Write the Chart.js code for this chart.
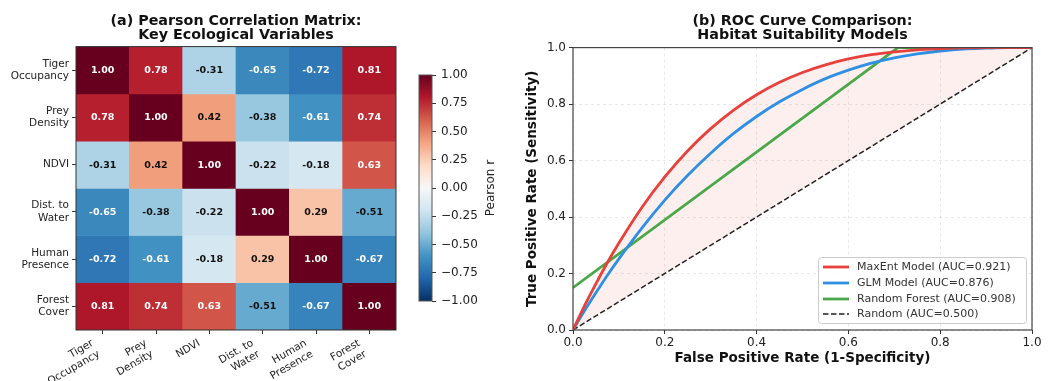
<!DOCTYPE html>
<html>
<head>
<meta charset="utf-8">
<script src="https://cdn.jsdelivr.net/npm/chart.js@4/dist/chart.umd.min.js"></script>
<style>
html,body{margin:0;padding:0;background:#fff;width:1056px;height:381px;overflow:hidden;}
canvas{position:absolute;top:0;}
#hm{left:0;}
#cb{left:405px;}
#roc{left:505px;}
</style>
</head>
<body>
<canvas id="hm" width="405" height="381"></canvas>
<canvas id="cb" width="100" height="381"></canvas>
<canvas id="roc" width="551" height="381"></canvas>
<script>
// ---------------- DATA ----------------
const varLabels = [['Tiger','Occupancy'],['Prey','Density'],['NDVI'],['Dist. to','Water'],['Human','Presence'],['Forest','Cover']];
const tigerOccupancy = [1.00, 0.78, -0.31, -0.65, -0.72, 0.81];
const preyDensity    = [0.78, 1.00, 0.42, -0.38, -0.61, 0.74];
const ndvi           = [-0.31, 0.42, 1.00, -0.22, -0.18, 0.63];
const distToWater    = [-0.65, -0.38, -0.22, 1.00, 0.29, -0.51];
const humanPresence  = [-0.72, -0.61, -0.18, 0.29, 1.00, -0.67];
const forestCover    = [0.81, 0.74, 0.63, -0.51, -0.67, 1.00];
const corrRows = [tigerOccupancy, preyDensity, ndvi, distToWater, humanPresence, forestCover];
const colorbarTicks = [-1.00, -0.75, -0.50, -0.25, 0.00, 0.25, 0.50, 0.75, 1.00];

const fpr        = [0, 0.025, 0.05, 0.075, 0.1, 0.15, 0.2, 0.25, 0.3, 0.35, 0.4, 0.45, 0.5, 0.55, 0.6, 0.65, 0.7, 0.75, 0.8, 0.85, 0.9, 0.95, 1.0];
const maxentTpr  = [0, 0.085, 0.164, 0.239, 0.308, 0.434, 0.542, 0.635, 0.713, 0.779, 0.833, 0.877, 0.912, 0.939, 0.960, 0.975, 0.985, 0.992, 0.996, 0.999, 1.0, 1.0, 1.0];
const glmTpr     = [0, 0.068, 0.132, 0.194, 0.252, 0.361, 0.460, 0.548, 0.626, 0.696, 0.756, 0.808, 0.852, 0.890, 0.920, 0.945, 0.964, 0.978, 0.988, 0.995, 0.998, 1.0, 1.0];
const rfFpr      = [0, 0.708, 1.0];
const rfTpr      = [0.15, 1.0, 1.0];
const randomFpr  = [0, 1];
const randomTpr  = [0, 1];
const rocTicks   = [0, 0.2, 0.4, 0.6, 0.8, 1.0];

// ---------------- COLORS ----------------
const rdbu = ['#053061','#2166ac','#4393c3','#92c5de','#d1e5f0','#f7f7f7','#fddbc7','#f4a582','#d6604d','#b2182b','#67001f'];
function hex(h){return [parseInt(h.substr(1,2),16),parseInt(h.substr(3,2),16),parseInt(h.substr(5,2),16)];}
function cmap(v){
  let t = (v + 1) / 2 * 10; t = Math.max(0, Math.min(10, t));
  const i = Math.min(9, Math.floor(t)); const f = t - i;
  const a = hex(rdbu[i]), b = hex(rdbu[i+1]);
  return 'rgb(' + a.map((x,k)=>Math.round(x + (b[k]-x)*f)).join(',') + ')';
}
const FONT = '"DejaVu Sans", sans-serif';
Chart.defaults.font.family = FONT;
Chart.defaults.color = '#222';

function framePlugin(color, width){
  return {
    id: 'frame',
    afterDraw(chart){
      const {ctx, chartArea:a} = chart;
      ctx.save(); ctx.strokeStyle = color; ctx.lineWidth = width;
      ctx.strokeRect(a.left, a.top, a.right - a.left, a.bottom - a.top);
      ctx.restore();
    }
  };
}

// ---------------- HEATMAP ----------------
const hmText = {
  id: 'hmText',
  afterDatasetsDraw(chart){
    const c = chart.ctx;
    c.save();
    c.font = 'bold 9.5px ' + FONT;
    c.textAlign = 'center'; c.textBaseline = 'middle';
    corrRows.forEach((row, i) => {
      chart.getDatasetMeta(i).data.forEach((bar, j) => {
        const v = row[j];
        c.fillStyle = Math.abs(v) > 0.55 ? '#ffffff' : '#111111';
        c.fillText(v.toFixed(2), bar.x, (bar.y + bar.base) / 2 + 0.5);
      });
    });
    c.restore();
  }
};

new Chart(document.getElementById('hm'), {
  type: 'bar',
  data: {
    labels: varLabels,
    datasets: corrRows.map((row, i) => ({
      data: row.map(() => [i, i + 1]),
      backgroundColor: row.map(cmap),
      borderWidth: 0,
      grouped: false,
      barPercentage: 1,
      categoryPercentage: 1
    }))
  },
  options: {
    responsive: false, animation: false,
    layout: {padding: {top: 0, right: 9, left: 0, bottom: 0}},
    plugins: {
      legend: {display: false}, tooltip: {enabled: false},
      title: {display: true, fullSize: false, text: ['(a) Pearson Correlation Matrix:', 'Key Ecological Variables'],
        font: {size: 14.3, weight: 'bold', lineHeight: 1.0}, color: '#111', padding: {top: 14, bottom: 4}}
    },
    scales: {
      x: {
        type: 'category',
        offset: true,
        grid: {display: true, drawOnChartArea: false, offset: false, tickLength: 4, tickColor: '#333', tickWidth: 1},
        border: {display: false},
        ticks: {font: {size: 10.5}, color: '#222', minRotation: 30, maxRotation: 30, padding: 3, labelOffset: -10, autoSkip: false},
        afterFit(s){ s.height = 51; }
      },
      y: {
        type: 'linear', min: 0, max: 6, reverse: true,
        afterBuildTicks(s){ s.ticks = corrRows.map((_, i) => ({value: i + 0.5})); },
        grid: {display: true, drawOnChartArea: false, tickLength: 4, tickColor: '#333', tickWidth: 1},
        border: {display: false},
        ticks: {font: {size: 10.5}, color: '#222', padding: 3, autoSkip: false,
          callback: (v) => varLabels[Math.floor(v)]},
        afterFit(s){ s.width = 76; }
      }
    }
  },
  plugins: [hmText, framePlugin('#333', 1)]
});

// ---------------- COLORBAR ----------------
const cbLabel = {
  id: 'cbLabel',
  afterDraw(chart){
    const c = chart.ctx;
    c.save();
    c.font = '12px ' + FONT; c.fillStyle = '#222';
    c.textAlign = 'center'; c.textBaseline = 'middle';
    const a = chart.chartArea;
    c.translate(86, (a.top + a.bottom) / 2);
    c.rotate(-Math.PI / 2);
    c.fillText('Pearson r', 0, 0);
    c.restore();
  }
};
new Chart(document.getElementById('cb'), {
  type: 'bar',
  data: {
    labels: ['r'],
    datasets: [{
      data: [[colorbarTicks[0], colorbarTicks[colorbarTicks.length - 1]]],
      backgroundColor(ctx){
        const ch = ctx.chart, a = ch.chartArea;
        if (!a) return '#fff';
        const g = ch.ctx.createLinearGradient(0, a.bottom, 0, a.top);
        rdbu.forEach((col, k) => g.addColorStop(k / 10, col));
        return g;
      },
      borderWidth: 0, barPercentage: 1, categoryPercentage: 1
    }]
  },
  options: {
    responsive: false, animation: false,
    layout: {padding: {top: 75, bottom: 80, left: 14, right: 28}},
    plugins: {legend: {display: false}, tooltip: {enabled: false}},
    scales: {
      x: {display: false},
      y: {
        position: 'right', min: -1, max: 1,
        afterBuildTicks(s){ s.ticks = colorbarTicks.map(v => ({value: v})); },
        grid: {drawOnChartArea: false, tickLength: 4, tickColor: '#333', tickWidth: 1},
        border: {display: false},
        ticks: {font: {size: 12}, color: '#222', padding: 5,
          callback: (v) => v.toFixed(2).replace('-', '\u2212')},
        afterFit(s){ s.width = 45; }
      }
    }
  },
  plugins: [framePlugin('#555', 1), cbLabel]
});

// ---------------- ROC ----------------
const RED = '#e8413c', BLUE = '#2e8fe3', GREEN = '#4aa84a';
const rocLegend = {
  id: 'rocLegend',
  afterDraw(chart){
    const c = chart.ctx;
    const x0 = 313, y0 = 257, w = 208, h = 66;
    c.save();
    c.fillStyle = 'rgba(255,255,255,0.85)';
    c.strokeStyle = '#cccccc'; c.lineWidth = 1;
    c.beginPath(); c.roundRect(x0 + 0.5, y0 + 0.5, w, h, 3); c.fill(); c.stroke();
    c.font = '11px ' + FONT; c.textBaseline = 'middle'; c.textAlign = 'left';
    const rows = [267, 283, 299, 314];
    chart.data.datasets.forEach((d, k) => {
      const y = rows[k];
      c.strokeStyle = d.borderColor; c.lineWidth = d.borderWidth;
      c.setLineDash(d.borderDash || []);
      c.beginPath(); c.moveTo(x0 + 5, y); c.lineTo(x0 + 31, y); c.stroke();
      c.setLineDash([]);
      c.fillStyle = '#333';
      c.fillText(d.label, x0 + 39, y + 0.5);
    });
    c.restore();
  }
};
const pts = (xs, ys) => xs.map((x, i) => ({x: x, y: ys[i]}));
new Chart(document.getElementById('roc'), {
  type: 'scatter',
  data: {
    datasets: [
      {label: 'MaxEnt Model (AUC=0.921)', data: pts(fpr, maxentTpr), borderColor: RED, borderWidth: 2.8,
        showLine: true, pointRadius: 0, cubicInterpolationMode: 'monotone', clip: 0,
        fill: {target: 3}, backgroundColor: 'rgba(231,76,60,0.09)'},
      {label: 'GLM Model (AUC=0.876)', data: pts(fpr, glmTpr), borderColor: BLUE, borderWidth: 2.8,
        showLine: true, pointRadius: 0, cubicInterpolationMode: 'monotone', clip: 0, fill: false},
      {label: 'Random Forest (AUC=0.908)', data: pts(rfFpr, rfTpr), borderColor: GREEN, borderWidth: 2.8,
        showLine: true, pointRadius: 0, clip: 0, fill: false},
      {label: 'Random (AUC=0.500)', data: pts(randomFpr, randomTpr), borderColor: '#222', borderWidth: 1.5,
        borderDash: [5.5, 2.5], showLine: true, pointRadius: 0, clip: 0, fill: false}
    ]
  },
  options: {
    responsive: false, animation: false,
    layout: {padding: {top: 0, right: 24, left: 15, bottom: 10}},
    plugins: {
      legend: {display: false}, tooltip: {enabled: false},
      filler: {drawTime: 'beforeDatasetsDraw'},
      title: {display: true, fullSize: false, text: ['(b) ROC Curve Comparison:', 'Habitat Suitability Models'],
        font: {size: 14.3, weight: 'bold', lineHeight: 1.0}, color: '#111', padding: {top: 14, bottom: 5}}
    },
    scales: {
      x: {
        type: 'linear', min: 0, max: 1,
        afterBuildTicks(s){ s.ticks = rocTicks.map(v => ({value: v})); },
        grid: {color: 'rgba(0,0,0,0.09)', lineWidth: 1, tickLength: 4, tickColor: '#333', tickWidth: 1},
        border: {display: false, dash: [3, 3]},
        ticks: {font: {size: 12}, color: '#222', padding: 2, callback: v => v.toFixed(1)},
        title: {display: true, text: 'False Positive Rate (1-Specificity)', font: {size: 13.5, weight: 'bold'}, color: '#111', padding: {top: 4, bottom: 4}},
        afterFit(s){ s.height = 41; }
      },
      y: {
        type: 'linear', min: 0, max: 1,
        afterBuildTicks(s){ s.ticks = rocTicks.map(v => ({value: v})); },
        grid: {color: 'rgba(0,0,0,0.09)', lineWidth: 1, tickLength: 4, tickColor: '#333', tickWidth: 1},
        border: {display: false, dash: [3, 3]},
        ticks: {font: {size: 12}, color: '#222', padding: 3, callback: v => v.toFixed(1)},
        title: {display: true, text: 'True Positive Rate (Sensitivity)', font: {size: 13.5, weight: 'bold'}, color: '#111', padding: {top: 4, bottom: 4}},
        afterFit(s){ s.width = 53; }
      }
    }
  },
  plugins: [framePlugin('#444', 1.2), rocLegend]
});
</script>
</body>
</html>
